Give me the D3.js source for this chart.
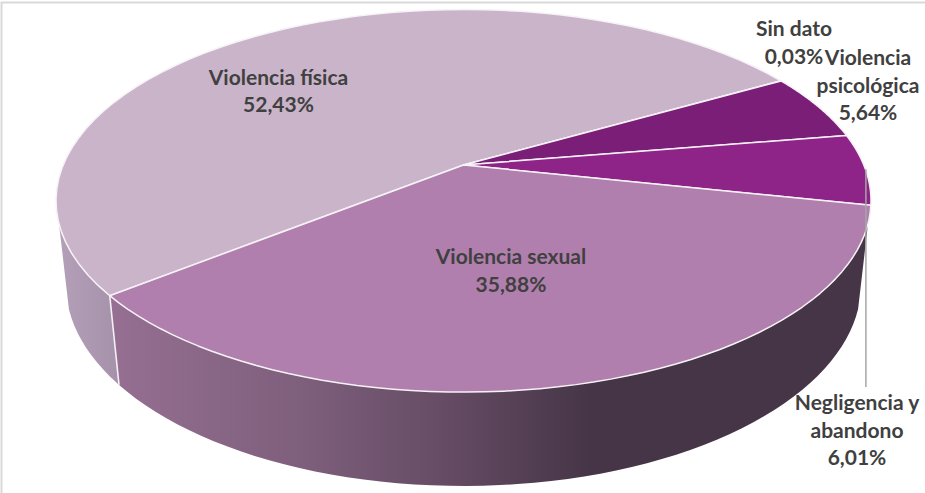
<!DOCTYPE html>
<html lang="es">
<head>
<meta charset="utf-8">
<title>Tipos de violencia</title>
<script src="https://cdn.jsdelivr.net/npm/d3@7"></script>
<style>
  html, body { margin: 0; background: #fff; }
  svg { display: block; }
  text { font-family: Lato, "Open Sans", sans-serif; font-weight: 700; font-size: 21px; fill: #404040; text-anchor: middle; }
</style>
</head>
<body>
<svg id="chart" width="925" height="493"></svg>
<script>
// Slices in clockwise drawing order
const categories = ["Violencia física", "Sin dato", "Violencia psicológica", "Negligencia y abandono", "Violencia sexual"];
const shares = [52.43, 0.03, 5.64, 6.01, 35.88];
const valueLabels = ["52,43%", "0,03%", "5,64%", "6,01%", "35,88%"];
const sliceColors = ["#cab4ca", "#a98ba8", "#7b1e78", "#8e2488", "#b07fad"];

// Lines of every label, with the anchor of its first baseline
const labelLines = [
  ["Violencia física", "52,43%"],
  ["Sin dato", "0,03%"],
  ["Violencia", "psicológica", "5,64%"],
  ["Negligencia y", "abandono", "6,01%"],
  ["Violencia sexual", "35,88%"]
];
const labelAnchors = [[278.5, 84.5], [794, 36], [868, 65], [857, 410], [511, 264]];
const lineStep = 27.7;

// Camera model: the disc seen in perspective, with a lower rim at height 1
const view = { cx: 463.5, cy: 165, a: 400.3, b: 184.6, k: 0.187, lift: 0.0238, drop: 84 };
const rad = d => d * Math.PI / 180;
const project = (angle, z) => {
  const u = Math.sin(angle), v = -Math.cos(angle);
  const w = 1 - view.k * v + view.lift * z;
  return [view.cx + view.a * u / w, view.cy + (view.b * v + view.drop * z) / w];
};

const svg = d3.select("#chart");

// Panel frame
svg.append("path")
  .attr("d", d3.line()([[1.5, 493], [1.5, 2.5], [925, 2.5]]))
  .attr("fill", "none").attr("stroke", "#d9d9d9").attr("stroke-width", 2);

const firstAngle = rad(231.3);
const arcs = d3.pie().sort(null).value(d => d)
  .startAngle(firstAngle).endAngle(firstAngle + 2 * Math.PI)(shares);

const line = d3.line();
const arcSamples = (from, to) => d3.range(0, 61).map(i => from + (to - from) * i / 60);

// Horizontal shading of the outer walls
const defs = svg.append("defs");
const addGradient = (id, x1, x2, stops) => {
  const g = defs.append("linearGradient").attr("id", id)
    .attr("gradientUnits", "userSpaceOnUse")
    .attr("x1", x1).attr("x2", x2).attr("y1", 0).attr("y2", 0);
  stops.forEach(([o, c]) => g.append("stop").attr("offset", o).attr("stop-color", c));
};
addGradient("wallSexual", 110, 870, [[0, "#966f92"], [0.25, "#7e5f7c"], [0.45, "#644b63"], [0.63, "#463547"], [1, "#463547"]]);
addGradient("wallFisica", 56, 120, [[0, "#b4a1b9"], [1, "#a591a9"]]);

// Visible part of the wall, bounded by the silhouette tangents
const wallFront = rad(107.5), wallBack = rad(252.5);
const wall = (from, to, fill) => {
  const top = arcSamples(from, to).map(a => project(a, 0));
  const bottom = arcSamples(to, from).map(a => project(a, 1));
  svg.append("path")
    .attr("d", line(top.concat(bottom)) + "Z")
    .attr("fill", fill)
    .attr("stroke", "none");
};
const boundary = arcs[0].startAngle;
wall(wallFront, boundary, "url(#wallSexual)");
wall(boundary, wallBack, "url(#wallFisica)");

// Separator between the two visible walls
svg.append("path")
  .attr("d", line([project(boundary, 0), project(boundary, 1)]))
  .attr("stroke", "#f3eff3").attr("stroke-width", 1.6).attr("fill", "none");

// Top face of every slice
svg.append("g").selectAll("path").data(arcs).join("path")
  .attr("d", d => line([[view.cx, view.cy]].concat(arcSamples(d.startAngle, d.endAngle).map(a => project(a, 0)))) + "Z")
  .attr("fill", (d, i) => sliceColors[i])
  .attr("stroke", "#f6f2f6")
  .attr("stroke-width", 1.5)
  .attr("stroke-linejoin", "round");

// Leader of the Negligencia label, dropped from the middle of its rim arc
const leaderSlice = categories.indexOf("Negligencia y abandono");
const leaderAngle = (arcs[leaderSlice].startAngle + arcs[leaderSlice].endAngle) / 2;
const [rimX, rimY] = project(leaderAngle, 0);
svg.append("path")
  .attr("d", line([[rimX + 0.5, rimY], [rimX + 0.5, labelAnchors[leaderSlice][1] - 23]]))
  .attr("stroke", "#a6a6a6").attr("stroke-width", 1.5).attr("fill", "none");

// Category and percentage labels
const labels = svg.append("g").selectAll("text").data(labelLines).join("text")
  .attr("x", (d, i) => labelAnchors[i][0])
  .attr("y", (d, i) => labelAnchors[i][1]);
labels.selectAll("tspan").data(d => d).join("tspan")
  .attr("x", function () { return this.parentNode.getAttribute("x"); })
  .attr("dy", (d, i) => i ? lineStep : 0)
  .text(d => d);
</script>
</body>
</html>
